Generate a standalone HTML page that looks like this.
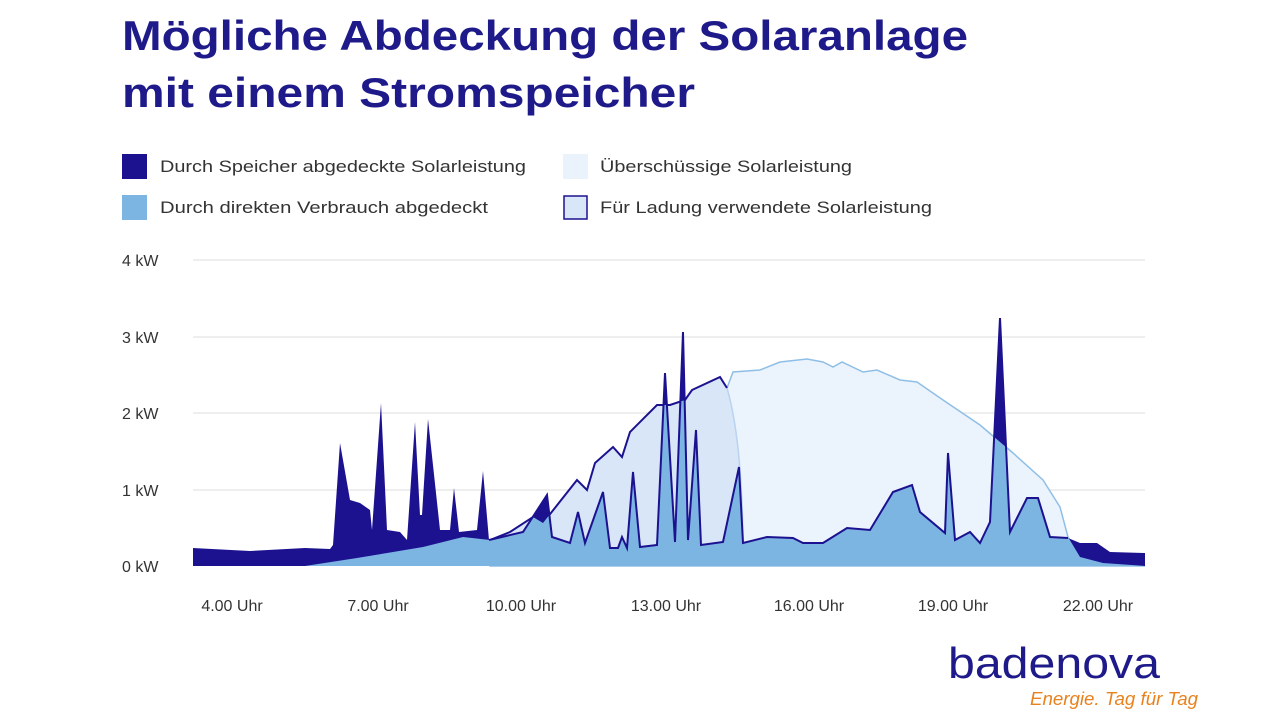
<!DOCTYPE html>
<html><head><meta charset="utf-8"><style>
html,body{margin:0;padding:0;background:#fff;}
svg{display:block;}
text{font-family:"Liberation Sans",sans-serif;}
</style></head><body>
<svg width="1280" height="720" viewBox="0 0 1280 720" xmlns="http://www.w3.org/2000/svg">
<defs>
<clipPath id="sol"><path d="M193,566 L305,566 L357,558 L423,547 L463,537 L490,540 L510,532 L533,517 L543,523 L577,480 L587,490 L595,463 L613,447 L622,457 L630,432 L657,405 L670,405 L685,400 L692,390 L720,377 L727,388 L733,372 L760,370 L780,362 L807,359 L823,362 L833,367 L842,362 L863,372 L877,370 L900,380 L917,382 L943,400 L980,425 L1013,453 L1043,480 L1060,507 L1068,537 L1080,557 L1103,563 L1145,566 Z"/></clipPath>
</defs>
<text x="122" y="50" font-size="42" font-weight="bold" fill="#1f1a8a" textLength="846" lengthAdjust="spacingAndGlyphs">Mögliche Abdeckung der Solaranlage</text>
<text x="122" y="107" font-size="42" font-weight="bold" fill="#1f1a8a" textLength="573" lengthAdjust="spacingAndGlyphs">mit einem Stromspeicher</text>

<rect x="122" y="154" width="25" height="25" fill="#1c1290"/>
<text x="160" y="172" font-size="17" fill="#333" textLength="366" lengthAdjust="spacingAndGlyphs">Durch Speicher abgedeckte Solarleistung</text>
<rect x="122" y="195" width="25" height="25" fill="#7cb4e2"/>
<text x="160" y="213" font-size="17" fill="#333" textLength="328" lengthAdjust="spacingAndGlyphs">Durch direkten Verbrauch abgedeckt</text>
<rect x="563" y="154" width="25" height="25" fill="#eaf2fc"/>
<text x="600" y="172" font-size="17" fill="#333" textLength="252" lengthAdjust="spacingAndGlyphs">Überschüssige Solarleistung</text>
<rect x="564" y="196" width="23" height="23" fill="#d8e6f7" stroke="#1c1290" stroke-width="1.5"/>
<text x="600" y="213" font-size="17" fill="#333" textLength="332" lengthAdjust="spacingAndGlyphs">Für Ladung verwendete Solarleistung</text>

<g stroke="#eeeeee" stroke-width="2">
<line x1="193" y1="260" x2="1145" y2="260"/><line x1="193" y1="337" x2="1145" y2="337"/>
<line x1="193" y1="413" x2="1145" y2="413"/><line x1="193" y1="490" x2="1145" y2="490"/>
</g>
<g font-size="16" fill="#333">
<text x="122" y="266">4 kW</text><text x="122" y="343">3 kW</text><text x="122" y="419">2 kW</text><text x="122" y="496">1 kW</text><text x="122" y="572">0 kW</text>
</g>
<g font-size="16" fill="#333" text-anchor="middle">
<text x="232" y="611">4.00 Uhr</text><text x="378" y="611">7.00 Uhr</text><text x="521" y="611">10.00 Uhr</text><text x="666" y="611">13.00 Uhr</text><text x="809" y="611">16.00 Uhr</text><text x="953" y="611">19.00 Uhr</text><text x="1098" y="611">22.00 Uhr</text>
</g>

<!-- excess solar -->
<path d="M490,540 L510,532 L533,517 L543,523 L577,480 L587,490 L595,463 L613,447 L622,457 L630,432 L657,405 L670,405 L685,400 L692,390 L720,377 L727,388 L733,372 L760,370 L780,362 L807,359 L823,362 L833,367 L842,362 L863,372 L877,370 L900,380 L917,382 L943,400 L980,425 L1013,453 L1043,480 L1060,507 L1068,537 L1080,557 L1103,563 L1145,566 L490,566 Z" fill="#ebf3fc" stroke="#8fbfe6" stroke-width="1.5"/>
<!-- charge area -->
<path d="M490,540 L510,532 L533,517 L543,523 L577,480 L587,490 L595,463 L613,447 L622,457 L630,432 L657,405 L670,405 L685,400 L692,390 L720,377 L727,388 Q742,440 743,545 L743,566 L490,566 Z" fill="#d9e6f7"/>
<path d="M490,540 L510,532 L533,517 L543,523 L577,480 L587,490 L595,463 L613,447 L622,457 L630,432 L657,405 L670,405 L685,400 L692,390 L720,377 L727,388" fill="none" stroke="#1c1290" stroke-width="2"/>
<path d="M727,388 Q742,440 743,545" fill="none" stroke="#b9d3f0" stroke-width="1.5"/>

<!-- consumption -->
<path id="cons" d="M193,548 L250,551 L305,548 L330,549 L333,545 L340,443 L350,500 L360,503 L370,510 L372,530 L381,403 L387,530 L400,532 L407,540 L415,422 L420,515 L422,515 L428,419 L440,530 L450,530 L454,488 L459,532 L477,530 L483,471 L489,540 L523,532 L547,495 L552,537 L570,543 L578,512 L585,543 L603,492 L610,548 L618,548 L622,537 L627,548 L633,472 L640,547 L657,545 L665,373 L675,542 L683,332 L688,540 L696,430 L701,545 L723,542 L739,467 L743,543 L767,537 L793,538 L803,543 L823,543 L847,528 L870,530 L893,492 L912,485 L920,512 L945,533 L948,453 L955,540 L970,532 L980,543 L990,522 L1000,318 L1010,532 L1027,498 L1038,498 L1050,537 L1068,538 L1080,543 L1097,543 L1110,552 L1145,553 L1145,566 L193,566 Z" fill="#1c1290"/>
<path d="M193,548 L250,551 L305,548 L330,549 L333,545 L340,443 L350,500 L360,503 L370,510 L372,530 L381,403 L387,530 L400,532 L407,540 L415,422 L420,515 L422,515 L428,419 L440,530 L450,530 L454,488 L459,532 L477,530 L483,471 L489,540 L523,532 L547,495 L552,537 L570,543 L578,512 L585,543 L603,492 L610,548 L618,548 L622,537 L627,548 L633,472 L640,547 L657,545 L665,373 L675,542 L683,332 L688,540 L696,430 L701,545 L723,542 L739,467 L743,543 L767,537 L793,538 L803,543 L823,543 L847,528 L870,530 L893,492 L912,485 L920,512 L945,533 L948,453 L955,540 L970,532 L980,543 L990,522 L1000,318 L1010,532 L1027,498 L1038,498 L1050,537 L1068,538 L1080,543 L1097,543 L1110,552 L1145,553 L1145,566 L193,566 Z" fill="#7cb4e2" clip-path="url(#sol)"/>
<path d="M489,540 L523,532 L547,495 L552,537 L570,543 L578,512 L585,543 L603,492 L610,548 L618,548 L622,537 L627,548 L633,472 L640,547 L657,545 L665,373 L675,542 L683,332 L688,540 L696,430 L701,545 L723,542 L739,467 L743,543 L767,537 L793,538 L803,543 L823,543 L847,528 L870,530 L893,492 L912,485 L920,512 L945,533 L948,453 L955,540 L970,532 L980,543 L990,522 L1000,318 L1010,532 L1027,498 L1038,498 L1050,537 L1068,538" fill="none" stroke="#1c1290" stroke-width="2"/>

<text x="948" y="678" font-size="44" fill="#1f1a8a" textLength="212" lengthAdjust="spacingAndGlyphs">badenova</text>
<text x="1030" y="705" font-size="18" font-style="italic" fill="#e8821e" textLength="168" lengthAdjust="spacingAndGlyphs">Energie. Tag für Tag</text>
</svg>
</body></html>
